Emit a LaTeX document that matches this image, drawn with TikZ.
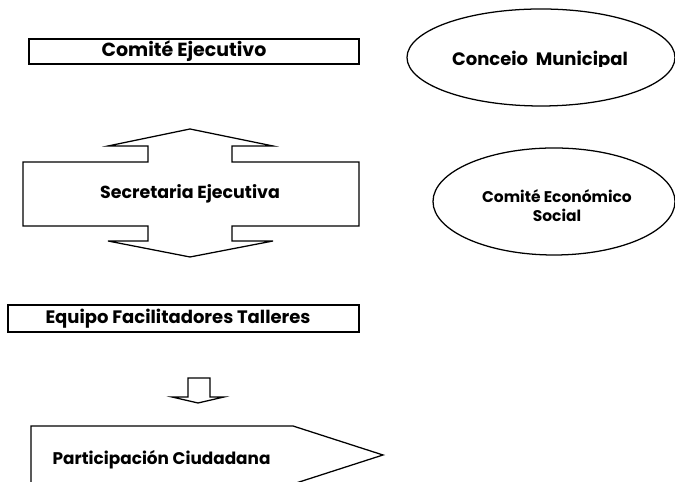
\documentclass[tikz,border=0pt]{standalone}
\usepackage{fontspec}
\setmainfont{Poppins}
\usetikzlibrary{shapes.geometric}

\begin{document}
\begin{tikzpicture}[
	box/.style={draw, line width=1.3pt},
	shp/.style={draw, line width=0.9pt, line join=miter},
	lbl/.style={font=\bfseries\fontsize{#1}{14}\selectfont},
	lbl/.default=12,
	lblsmall/.style={font=\bfseries\fontsize{11}{13.5}\selectfont, align=center}
	]
			%%%%% START %%%%%
			\useasboundingbox (0,0) rectangle (16.875,12.05);
			
			\draw[box] (0.725,10.45) rectangle (8.975,11.075);
			\node[lbl=13.5] (comite) at (4.6,10.76) {Comité Ejecutivo};
			
			\draw[shp] (13.525,10.6125) ellipse (3.35 and 1.2125);
			\begin{scope}
				\clip (10,10.38) rectangle (17,12);
				\node[lbl=12.8, anchor=base] (concejo) at (13.5,10.4) {Conceio\ \ Municipal};
			\end{scope}
			
			\draw[shp] (0.575,6.4) -- (0.575,8.0) -- (3.7,8.0) -- (3.7,8.4) -- (2.7,8.4) -- (4.75,8.825) -- (6.825,8.4) -- (5.8,8.4) -- (5.8,8.0) -- (8.975,8.0) -- (8.975,6.4) -- (5.8,6.4) -- (5.8,6.025) -- (6.825,6.025) -- (4.75,5.625) -- (2.7,6.025) -- (3.7,6.025) -- (3.7,6.4) -- cycle;
			\node[lbl=12.4] (secretaria) at (4.75,7.2) {Secretaria Ejecutiva};
			
			\draw[shp] (13.85,7.0125) ellipse (3.025 and 1.3375);
			\node[lblsmall] (ces) at (13.925,6.91) {Comité Económico\\Social};
			
			\draw[box] (0.2,3.75) rectangle (8.975,4.425);
			\node[lbl=12.8] (equipo) at (4.45,4.09) {Equipo Facilitadores Talleres};
			
			\draw[shp] (4.7,2.6) -- (4.7,2.125) -- (4.3,2.125) -- (4.95,1.975) -- (5.6,2.125) -- (5.25,2.125) -- (5.25,2.6) -- cycle;
			
			\draw[shp] (0.775,-0.05) -- (0.775,1.4) -- (7.325,1.4) -- (9.575,0.675) -- (7.325,-0.05) -- cycle;
			\node[lbl] (participacion) at (4.04,0.55) {Participación Ciudadana};
			
			%%%%% END %%%%%
\end{tikzpicture}
\end{document}
